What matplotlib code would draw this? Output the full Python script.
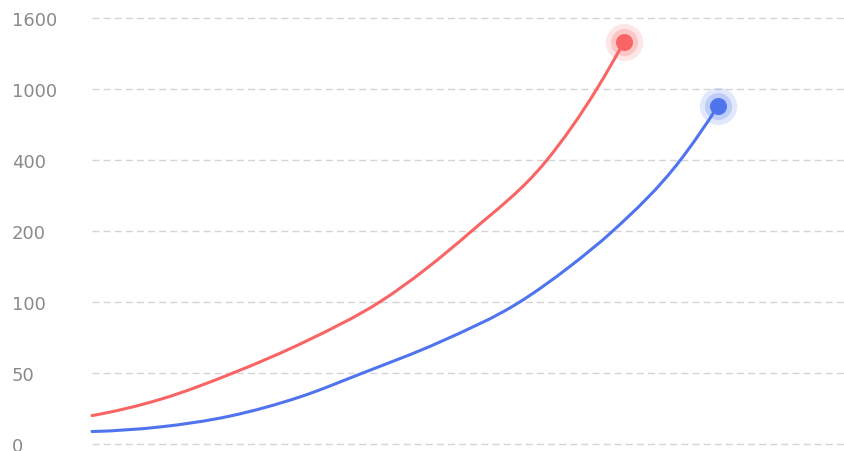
import numpy as np
import matplotlib.pyplot as plt
from matplotlib.path import Path
from matplotlib.patches import PathPatch

# y axis ticks are evenly spaced even though the values are not
ticks = [0, 50, 100, 200, 400, 1000, 1600]
tick_pos = np.arange(len(ticks))

def fwd(v):
    return np.interp(v, ticks, tick_pos)

# red series
red_x = [0, 7.4, 15.0, 22.8, 30.6, 40.4, 48.4, 53.7, 56.6]
red_y = [20, 31.7, 50, 72.5, 100, 200, 400, 1000, 1400]

# blue series
blue_x = [0, 7.2, 14.7, 22.1, 28.8, 37.0, 45.5, 50.9, 55.4, 62.6, 66.6]
blue_y = [8.8, 12.0, 19.7, 33.1, 50, 71.8, 100, 150.7, 200, 400, 859]

red = '#f96464'
blue = '#4f74ee'


def smooth_path(xs, ys):
    # hermite curve through the points, as cubic bezier segments
    x = np.array(xs, float)
    y = fwd(np.array(ys, float))
    h = np.diff(x)
    d = np.diff(y) / h
    m = np.empty_like(y)
    m[1:-1] = (h[1:] * d[:-1] + h[:-1] * d[1:]) / (h[:-1] + h[1:])
    m[0] = d[0] + (d[0] - d[1]) * h[0] / (h[0] + h[1])
    m[-1] = d[-1] + (d[-1] - d[-2]) * h[-1] / (h[-1] + h[-2])
    verts = [(x[0], y[0])]
    codes = [Path.MOVETO]
    for i in range(len(x) - 1):
        k = h[i] / 3
        verts += [(x[i] + k, y[i] + m[i] * k),
                  (x[i + 1] - k, y[i + 1] - m[i + 1] * k),
                  (x[i + 1], y[i + 1])]
        codes += [Path.CURVE4] * 3
    return Path(verts, codes)


fig = plt.figure(figsize=(8.44, 4.52), dpi=100)
ax = fig.add_axes([92 / 844, 7 / 452, 752 / 844, 426 / 452])
ax.set_ylim(0, len(ticks) - 1)
ax.set_xlim(0, 80)

ax.set_yticks(tick_pos)
ax.set_yticklabels([str(t) for t in ticks])
ax.set_xticks([])
ax.tick_params(axis='y', length=0, pad=57.6, labelsize=13, labelcolor='#8a8a8a')
for lab in ax.get_yticklabels():
    lab.set_horizontalalignment('left')
for s in ax.spines.values():
    s.set_visible(False)
ax.grid(axis='y', color='#d4d4d4', linestyle=(0, (5, 3)), linewidth=1)
for gl in ax.yaxis.get_gridlines():
    gl.set_clip_on(False)

for xs, ys, c in [(red_x, red_y, red), (blue_x, blue_y, blue)]:
    ax.add_patch(PathPatch(smooth_path(xs, ys), facecolor='none', edgecolor=c,
                           linewidth=2.2, capstyle='round', clip_on=False, zorder=3))
    end = fwd(ys[-1])
    ax.scatter(xs[-1], end, s=720, color=c, alpha=0.16, linewidths=0, clip_on=False, zorder=4)
    ax.scatter(xs[-1], end, s=380, color=c, alpha=0.24, linewidths=0, clip_on=False, zorder=4)
    ax.scatter(xs[-1], end, s=150, color=c, linewidths=0, clip_on=False, zorder=5)

plt.savefig('out.png', dpi=100)
